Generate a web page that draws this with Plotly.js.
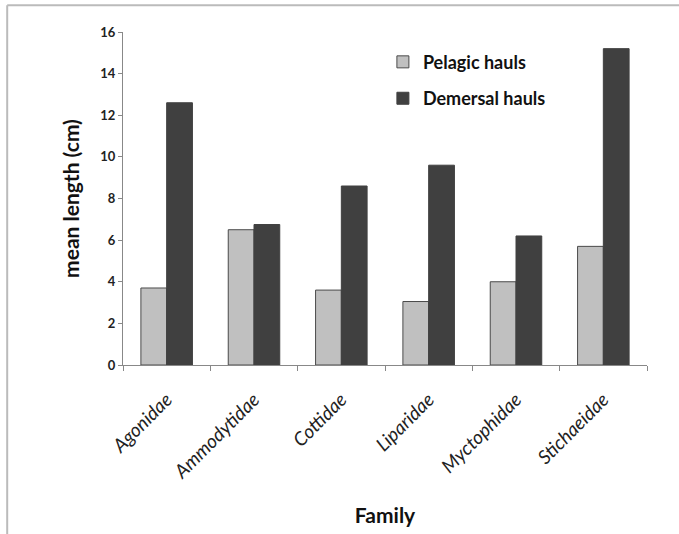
<!DOCTYPE html>
<html>
<head>
<meta charset="utf-8">
<script src="https://cdn.plot.ly/plotly-3.0.1.min.js"></script>
<style>html,body{margin:0;padding:0;background:#fff;} #chart{width:679px;height:534px;}</style>
</head>
<body>
<div id="chart"></div>
<script>
var families = ["Agonidae", "Ammodytidae", "Cottidae", "Liparidae", "Myctophidae", "Stichaeidae"];
var pelagic = [3.7, 6.5, 3.6, 3.05, 4.0, 5.7];
var demersal = [12.6, 6.75, 8.6, 9.6, 6.2, 15.2];
var yTicks = [0, 2, 4, 6, 8, 10, 12, 14, 16];

var FONT = "Lato, 'Open Sans', sans-serif";

var traces = [
  {
    type: "bar", name: "Pelagic hauls", x: families, y: pelagic,
    legendgroup: "p",
    marker: {color: "#c0c0c0", line: {color: "#4a4a4a", width: 1}}
  },
  {
    type: "bar", name: "Demersal hauls", x: families, y: demersal,
    legendgroup: "d",
    marker: {color: "#404040", line: {color: "#404040", width: 1}}
  }
];

var layout = {
  width: 679, height: 534,
  margin: {l: 123, r: 32, t: 32, b: 169},
  paper_bgcolor: "#fff", plot_bgcolor: "#fff",
  barmode: "group", bargap: 0.41, bargroupgap: 0,
  showlegend: true,
  legend: {
    x: 0.496, y: 0.965, xanchor: "left", yanchor: "top",
    font: {family: FONT, size: 18, color: "#111", weight: "bold"},
    bgcolor: "rgba(0,0,0,0)", traceorder: "grouped", tracegroupgap: 10
  },
  xaxis: {
    type: "category", tickson: "boundaries",
    showline: true, linecolor: "#888", linewidth: 1,
    ticks: "outside", ticklen: 5, tickcolor: "#888",
    tickangle: -45, ticklabelstandoff: 15,
    tickfont: {family: FONT, size: 19, color: "#222", style: "italic"},
    showgrid: false, zeroline: false, automargin: false,
    title: {text: "Family", font: {family: FONT, size: 21, color: "#111", weight: "bold"}, standoff: 26}
  },
  yaxis: {
    range: [0, 16], tickvals: yTicks, ticktext: yTicks.map(String),
    showline: true, linecolor: "#888", linewidth: 1,
    ticks: "outside", ticklen: 4, tickcolor: "#888",
    tickfont: {family: FONT, size: 13, color: "#222", weight: "bold"},
    showgrid: false, zeroline: false, automargin: false,
    title: {text: "mean length (cm)", font: {family: FONT, size: 21, color: "#111", weight: "bold"}, standoff: 14}
  },
  shapes: [
    {type: "line", xref: "paper", yref: "paper", x0: -0.221, x1: 1.1, y0: 1.08, y1: 1.08, line: {color: "#bbb", width: 2}},
    {type: "line", xref: "paper", yref: "paper", x0: -0.221, x1: -0.221, y0: 1.08, y1: -0.6, line: {color: "#bbb", width: 2}}
  ]
};

Plotly.newPlot("chart", traces, layout, {displayModeBar: false, staticPlot: true});
</script>
</body>
</html>
